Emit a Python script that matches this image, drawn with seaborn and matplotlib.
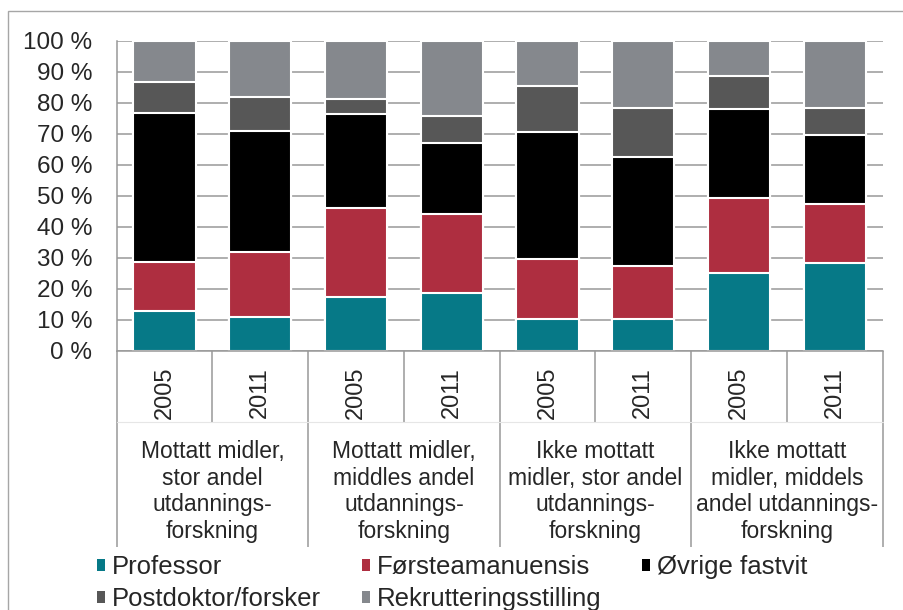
import numpy as np
import pandas as pd
import matplotlib
matplotlib.use("Agg")
import matplotlib.pyplot as plt
from matplotlib.patches import Patch, Rectangle
import seaborn as sns

# Data (shares in %)
groups = [
    "Mottatt midler,\nstor andel\nutdannings-\nforskning",
    "Mottatt midler,\nmiddles andel\nutdannings-\nforskning",
    "Ikke mottatt\nmidler, stor andel\nutdannings-\nforskning",
    "Ikke mottatt\nmidler, middels\nandel utdannings-\nforskning",
]
years = ["2005", "2011", "2005", "2011", "2005", "2011", "2005", "2011"]
categories = ["Professor", "Førsteamanuensis", "Øvrige fastvit",
              "Postdoktor/forsker", "Rekrutteringsstilling"]
professor = [12.8, 10.8, 17.4, 18.7, 10.1, 10.2, 25.0, 28.4]
forsteamanuensis = [15.9, 20.9, 28.6, 25.3, 19.5, 17.2, 24.4, 18.9]
ovrige_fastvit = [48.0, 39.3, 30.4, 23.0, 40.9, 35.2, 28.7, 22.3]
postdoktor = [9.9, 10.8, 4.7, 8.7, 14.8, 15.7, 10.5, 8.7]
rekruttering = [13.4, 18.2, 18.9, 24.3, 14.7, 21.7, 11.4, 21.7]

colors = ["#067987", "#AE2E40", "#000000", "#575757", "#85888D"]
grid_col = "#989898"

sns.set_style("white")
plt.rcParams["font.family"] = ["Liberation Sans", "DejaVu Sans"]

bars = [f"b{i}" for i in range(len(years))]
values = [professor, forsteamanuensis, ovrige_fastvit, postdoktor, rekruttering]
rows = []
for cat, vals in zip(categories, values):
    for b, v in zip(bars, vals):
        rows.append({"bar": b, "category": cat, "value": v})
df = pd.DataFrame(rows)
df["category"] = pd.Categorical(df["category"], categories, ordered=True)
df = df.sort_values(["bar", "category"])
df["top"] = df.groupby("bar")["value"].cumsum()

fig = plt.figure(figsize=(9.04, 6.10), dpi=100)
ax = fig.add_axes([116.7 / 904, 1 - 350.7 / 610, (882.7 - 116.7) / 904, 310 / 610])

# stacked bars: draw cumulative tops from the highest layer down
for cat, col in reversed(list(zip(categories, colors))):
    sub = df[df["category"] == cat]
    sns.barplot(data=sub, x="bar", y="top", order=bars, color=col,
                width=0.65, edgecolor="white", linewidth=1.5, ax=ax,
                saturation=1, errorbar=None)

ax.set_ylim(0, 100)
ax.set_xlim(-0.5, len(bars) - 0.5)
ax.set_yticks(np.arange(0, 101, 10))
ax.set_yticklabels([f"{t} %" for t in range(0, 101, 10)], fontsize=17.5)
ax.set_axisbelow(True)
ax.yaxis.grid(True, color=grid_col, lw=1.1)
ax.tick_params(axis="y", direction="out", length=6.5, width=1.1,
               color=grid_col, pad=11)
ax.tick_params(axis="x", length=0, labelbottom=False)
ax.set_xlabel("")
ax.set_ylabel("")
for s in ["top", "right"]:
    ax.spines[s].set_visible(False)
for s in ["left", "bottom"]:
    ax.spines[s].set_color(grid_col)
    ax.spines[s].set_linewidth(1.1)

# multi-level category axis
tr = ax.get_xaxis_transform()
for i in range(len(bars) + 1):
    x = i - 0.5
    y_end = -0.632 if i % 2 == 0 else -0.229
    ax.plot([x, x], [0, y_end], transform=tr, color=grid_col, lw=1.1,
            clip_on=False, solid_capstyle="butt")
ax.plot([-0.5, len(bars) - 0.5], [-0.229, -0.229], transform=tr,
        color="#e6e6e6", lw=0.8, clip_on=False)
for i, yr in enumerate(years):
    ax.text(i, -0.136, yr, transform=tr, rotation=90, ha="center",
            va="center", fontsize=17)
for g, label in enumerate(groups):
    ax.text(2 * g + 0.5, -0.288, label, transform=tr, ha="center",
            va="top", fontsize=16.5, linespacing=1.2)

# legend (row-wise order in a 3-column legend)
handles = [Patch(facecolor=c, edgecolor="none", label=l)
           for c, l in zip(colors, categories)]
order = [0, 3, 1, 4, 2]
fig.legend([handles[i] for i in order], [categories[i] for i in order],
           loc="upper left", bbox_to_anchor=(97 / 904, 1 - 555 / 610),
           ncol=3, frameon=False, fontsize=18.5, handlelength=0.32,
           handleheight=0.32, handletextpad=0.25, columnspacing=1.6,
           labelspacing=0.33, borderpad=0, borderaxespad=0)

# outer chart frame
fig.add_artist(Rectangle((8 / 904, -0.5), 2, 1.5 - 11 / 610,
                         transform=fig.transFigure, fill=False,
                         edgecolor="#A6A6A6", lw=1))

fig.savefig("out.png", dpi=100)
